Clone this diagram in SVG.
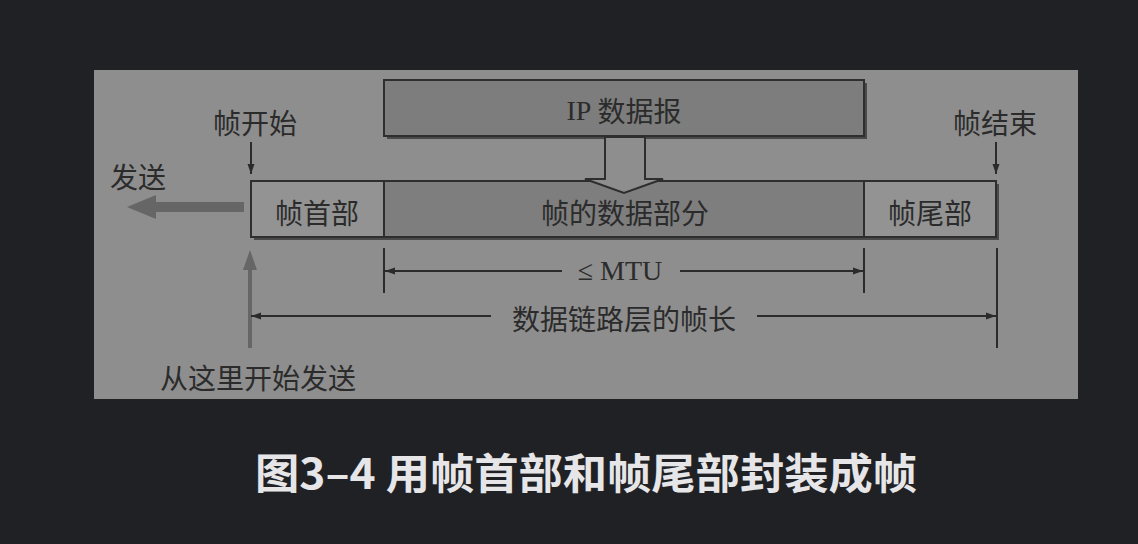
<svg xmlns="http://www.w3.org/2000/svg" width="1138" height="544" viewBox="0 0 1138 544">
<style>
.t{font-family:"Noto Sans CJK SC","Liberation Serif",sans-serif;font-size:28px;fill:#2b2b2b;text-anchor:middle;dominant-baseline:central}
.box{stroke:#2e2e2e;stroke-width:2}
.sh{fill:#4a4a4a}
.ln{stroke:#2b2b2b;stroke-width:2;fill:none}
</style>
<defs>
<marker id="ah" viewBox="0 0 10 10" refX="10" refY="5" markerWidth="10" markerHeight="10" markerUnits="userSpaceOnUse" orient="auto">
<path d="M0,1.5 L10,5 L0,8.5 Z" fill="#2b2b2b"/>
</marker>
</defs>
<rect width="1138" height="544" fill="#202124"/>
<rect x="94" y="70" width="984" height="329" fill="#8e8e8e"/>

<g id="ip">
<rect class="sh" x="387" y="83" width="480" height="56"/>
<rect class="box" x="384" y="80" width="480" height="56" fill="#7d7d7d"/>
<text class="t" x="624" y="110"><tspan style="font-family:'Liberation Serif',serif">IP</tspan> 数据报</text>
</g>

<g id="frame">
<rect class="sh" x="254" y="184" width="745" height="56"/>
<rect class="box" x="251" y="181" width="133" height="56" fill="#939393"/>
<rect class="box" x="384" y="181" width="480" height="56" fill="#7e7e7e"/>
<rect class="box" x="864" y="181" width="132" height="56" fill="#939393"/>
</g>
<g id="header"><text class="t" x="317" y="212">帧首部</text></g>
<g id="data"><text class="t" x="625" y="212">帧的数据部分</text></g>
<g id="trailer"><text class="t" x="930" y="212">帧尾部</text></g>

<g id="down-arrow">
<path d="M605,137 L605,179 L585,179 L624,193 L663,179 L645,179 L645,137 Z" fill="#8e8e8e" stroke="#2e2e2e" stroke-width="2"/>
</g>

<g id="labels">
<text class="t" x="255" y="122">帧开始</text>
<text class="t" x="995" y="122">帧结束</text>
<text class="t" x="138" y="176">发送</text>
<text class="t" x="258" y="377">从这里开始发送</text>
<text class="t" x="620" y="270" style="font-family:'Liberation Serif','Noto Sans CJK SC',serif">≤ MTU</text>
<text class="t" x="624" y="318">数据链路层的帧长</text>
</g>

<g id="connectors">
<line class="ln" x1="251" y1="142" x2="251" y2="174" marker-end="url(#ah)"/>
<line class="ln" x1="996" y1="142" x2="996" y2="174" marker-end="url(#ah)"/>
<path d="M244,202 L156,202 L156,195 L127,207 L156,219 L156,212 L244,212 Z" fill="#666"/>
<path d="M248,348 L248,270 L243,270 L250,250 L257,270 L252,270 L252,348 Z" fill="#666"/>
<line class="ln" x1="384" y1="248" x2="384" y2="293"/>
<line class="ln" x1="864" y1="248" x2="864" y2="293"/>
<line class="ln" x1="997" y1="248" x2="997" y2="348"/>
<line class="ln" x1="562" y1="271" x2="385" y2="271" marker-end="url(#ah)"/>
<line class="ln" x1="680" y1="271" x2="863" y2="271" marker-end="url(#ah)"/>
<line class="ln" x1="491" y1="316" x2="251" y2="316" marker-end="url(#ah)"/>
<line class="ln" x1="757" y1="316" x2="996" y2="316" marker-end="url(#ah)"/>
</g>

<text x="255" y="489" textLength="662" lengthAdjust="spacingAndGlyphs" style="font-family:'Noto Sans CJK SC',sans-serif;font-size:42px;font-weight:bold;fill:#e6e6e8">图3–4 用帧首部和帧尾部封装成帧</text>
</svg>
